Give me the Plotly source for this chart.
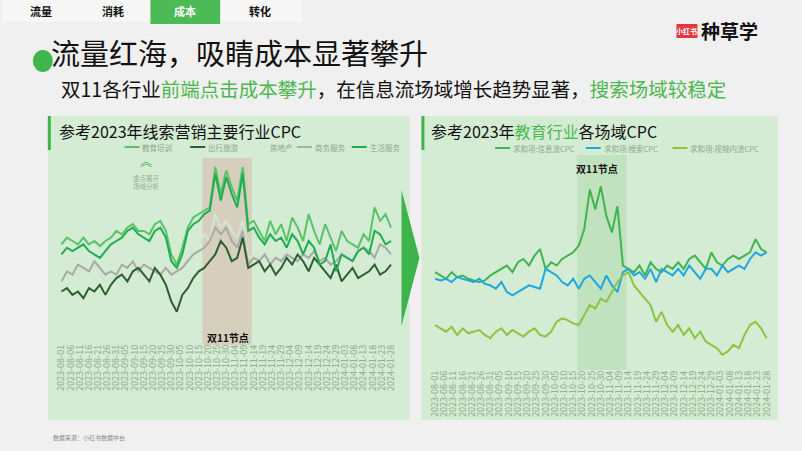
import plotly.graph_objects as go
import pandas as pd

dates = pd.date_range("2023-08-01", periods=61, freq="3D")
tick_dates = pd.date_range("2023-08-01", "2024-01-28", freq="5D")
tick_labels = [d.strftime("%Y-%m-%d") for d in tick_dates]

left_names = ["教育培训", "出行旅游", "房地产", "商务服务", "生活服务"]
edu = [290,310,300,290,310,290,300,285,300,310, 330,320,340,350,330,330,320,350,360,330,
       260,230,280,340,370,380,390,400,520,440, 510,460,420,520,350,
       360,330,300,360,320,350,300,370,340,300, 380,330,290,350,310,270,330,300,290,280,
       320,300,400,360,380,340]
travel = [150,160,140,150,130,160,150,170,140,170, 190,200,180,210,220,200,180,220,200,170,
          120,90,140,160,190,210,220,240,260,300, 280,240,250,310,220,
          230,240,210,230,200,220,250,230,260,240, 210,250,230,210,190,230,180,200,220,190,
          200,210,230,200,210,230]
estate = [240,230,220,200,220,210,230,200,180,190, 200,180,170,200,210,190,220,230,240,220,
          210,200,230,250,280,290,320,300,380,340, 360,330,310,360,250,
          260,250,270,240,260,250,270,260,250,270, 270,280,260,260,250,260,270,260,250,280,
          290,270,260,280,270,270]
business = [180,210,200,230,220,210,240,220,200,210, 200,230,220,240,210,230,220,210,200,220,
            200,210,220,240,260,270,280,300,340,320, 340,300,280,330,230,
            250,240,260,230,250,240,260,250,240,260, 250,270,240,250,230,240,260,250,240,270,
            280,270,250,290,280,260]
life = [260,280,270,280,290,270,260,250,270,290, 300,310,330,340,320,310,300,330,340,310,
        240,220,260,330,350,360,380,390,500,420, 490,440,400,500,330,
        340,310,290,320,300,310,280,320,300,260, 300,280,230,240,290,210,260,250,240,270,
        280,260,330,320,290,300]

right_names = ["求和项:信息流CPC", "求和项:搜索CPC", "求和项:视频内流CPC"]
feed = [290,280,270,290,275,280,270,265,260,265, 280,290,300,310,290,320,330,310,340,360,
        300,320,310,330,340,350,370,420,540,480, 550,460,410,490,
        310,300,290,310,280,320,300,290,310,300, 320,300,330,340,320,300,350,320,310,330,
        340,330,340,350,390,360,350]
search = [270,265,270,260,275,270,265,260,270,255, 250,240,260,230,220,230,240,250,245,240,
          300,290,280,260,250,270,240,270,280,260, 240,280,250,230,290,300,280,290,270,300,
          260,300,290,280,300,280,310,290,270,300, 300,280,310,290,300,310,300,330,350,340, 350]
video = [130,120,110,125,100,120,105,110,115,100, 90,110,120,100,115,105,95,110,120,100,
         95,110,140,150,145,135,130,160,190,180, 210,200,230,260,280,290,250,230,210,190,
         140,170,130,110,130,100,120,90,110,80, 70,60,40,50,70,60,100,130,140,120,90]

FONT = "Noto Sans CJK SC"
fig = go.Figure()
left_colors = ["#5cc26a", "#2f5e31", "#d2e6d2", "#a8aaa6", "#1fae4f"]
left_data = [edu, travel, estate, business, life]
order = [2, 3, 1, 0, 4]
for k in order:
    fig.add_trace(go.Scatter(x=dates, y=left_data[k], mode="lines", name=left_names[k],
                             line=dict(color=left_colors[k], width=2), xaxis="x", yaxis="y",
                             showlegend=False))
right_colors = ["#3fb54e", "#1ea7e1", "#8cc43f"]
for name, ys, c in zip(right_names, [feed, search, video], right_colors):
    fig.add_trace(go.Scatter(x=dates, y=ys, mode="lines", name=name,
                             line=dict(color=c, width=2), xaxis="x2", yaxis="y2", showlegend=False))

ax = dict(showgrid=False, zeroline=False, showline=False, tickangle=-90,
          tickvals=list(tick_dates), ticktext=tick_labels, tickfont=dict(size=9, color="#8aa88a", family=FONT),
          range=["2023-07-30", "2024-01-31"], ticks="")
fig.update_layout(
    width=802, height=451, margin=dict(l=0, r=0, t=0, b=0),
    paper_bgcolor="#f0f0f0", plot_bgcolor="rgba(0,0,0,0)",
    font=dict(family=FONT),
    xaxis=dict(domain=[55/802, 395/802], anchor="y", **ax),
    yaxis=dict(domain=[1-342/451, 1-140/451], range=[0, 600], visible=False),
    xaxis2=dict(domain=[430/802, 772/802], anchor="y2", **ax),
    yaxis2=dict(domain=[1-368/451, 1-140/451], range=[0, 690], visible=False),
)

shapes = []
shapes.append(dict(type="rect", xref="paper", yref="paper", x0=45/802, x1=408/802, y0=1-420/451, y1=1-116/451,
                   fillcolor="#d4ecd3", line_width=0, layer="below"))
shapes.append(dict(type="rect", xref="paper", yref="paper", x0=420/802, x1=778/802, y0=1-420/451, y1=1-116/451,
                   fillcolor="#d4ecd3", line_width=0, layer="below"))
shapes.append(dict(type="rect", xref="paper", yref="paper", x0=45/802, x1=48/802, y0=1-150/451, y1=1-116/451,
                   fillcolor="#3cb44b", line_width=0))
shapes.append(dict(type="rect", xref="paper", yref="paper", x0=420/802, x1=423/802, y0=1-150/451, y1=1-116/451,
                   fillcolor="#3cb44b", line_width=0))
shapes.append(dict(type="rect", xref="x", yref="paper", x0="2023-10-17", x1="2023-11-13",
                   y0=1-345/451, y1=1-158/451, fillcolor="#d6cfbd", line_width=0, layer="below"))
shapes.append(dict(type="rect", xref="x2", yref="paper", x0="2023-10-17", x1="2023-11-13",
                   y0=1-370/451, y1=1-155/451, fillcolor="rgba(170,215,165,0.45)", line_width=0, layer="below"))
shapes.append(dict(type="path", xref="paper", yref="paper",
                   path=f"M {400/802} {1-190/451} L {418/802} {1-258/451} L {400/802} {1-326/451} Z",
                   fillcolor="#3cb44b", line_width=0))
shapes.append(dict(type="rect", xref="paper", yref="paper", x0=0, x1=300/802, y0=1-22/451, y1=1,
                   fillcolor="#f7f7f7", line_width=0))
shapes.append(dict(type="rect", xref="paper", yref="paper", x0=148/802, x1=218/802, y0=1-24/451, y1=1,
                   fillcolor="#4cbb55", line_width=0))
shapes.append(dict(type="circle", xref="paper", yref="paper", x0=30/802, x1=50/802, y0=1-72/451, y1=1-50/451,
                   fillcolor="#3fb54e", line_width=0, layer="below"))
shapes.append(dict(type="rect", xref="paper", yref="paper", x0=676/802, x1=697/802, y0=1-38/451, y1=1-24/451,
                   fillcolor="#e8363f", line_width=0))
fig.update_layout(shapes=shapes)

def T(x, y, text, size, color="#111", anchor="left", **kw):
    fig.add_annotation(xref="paper", yref="paper", x=x/802, y=1-y/451, text=text, showarrow=False,
                       xanchor=anchor, yanchor="middle", font=dict(size=size, color=color, family=FONT), **kw)

T(38, 11, "<b>流量</b>", 11, anchor="center")
T(110, 11, "<b>消耗</b>", 11, anchor="center")
T(183, 11, "<b>成本</b>", 11, "white", anchor="center")
T(258, 11, "<b>转化</b>", 11, anchor="center")
T(686, 31, "<b>小红书</b>", 7, "white", anchor="center")
T(699, 31, "<b>种草学</b>", 19, "#111")
T(46, 52, "流量红海，吸睛成本显著攀升", 29)
T(56, 89, "双11各行业<span style='color:#4cb84f'>前端点击成本攀升</span>，在信息流场域增长趋势显著，<span style='color:#4cb84f'>搜索场域较稳定</span>", 19.5)
T(54, 131, "参考2023年线索营销主要行业CPC", 16)
T(428, 131, "参考2023年<span style='color:#4cb84f'>教育行业</span>各场域CPC", 16)
T(226, 337, "<b>双11节点</b>", 10, anchor="center")
T(596, 168, "<b>双11节点</b>", 10, anchor="center")
T(144, 182, "重点展开<br>场域分析", 6.5, "#9aaa9a", anchor="center")
T(144, 160, "︽", 12, "#3cb44b", anchor="center")
T(48, 437, "数据来源：小红书数据中台", 6, "#888")

lx = [122, 188, 250, 295, 350]
for x, n, c in zip(lx, left_names, left_colors):
    fig.add_shape(type="line", xref="paper", yref="paper", x0=x/802, x1=(x+15)/802, y0=1-147/451, y1=1-147/451,
                  line=dict(color=c, width=2))
    T(x+16, 147, n, 7.5, "#8aa88a")
rx = [494, 585, 672]
for x, n, c in zip(rx, right_names, right_colors):
    fig.add_shape(type="line", xref="paper", yref="paper", x0=x/802, x1=(x+15)/802, y0=1-148/451, y1=1-148/451,
                  line=dict(color=c, width=2))
    T(x+16, 148, n, 7.5, "#8aa88a")

fig.write_html("out.html", config={"displayModeBar": False},
               post_script="document.body.style.margin='0';document.body.style.overflow='hidden';")
